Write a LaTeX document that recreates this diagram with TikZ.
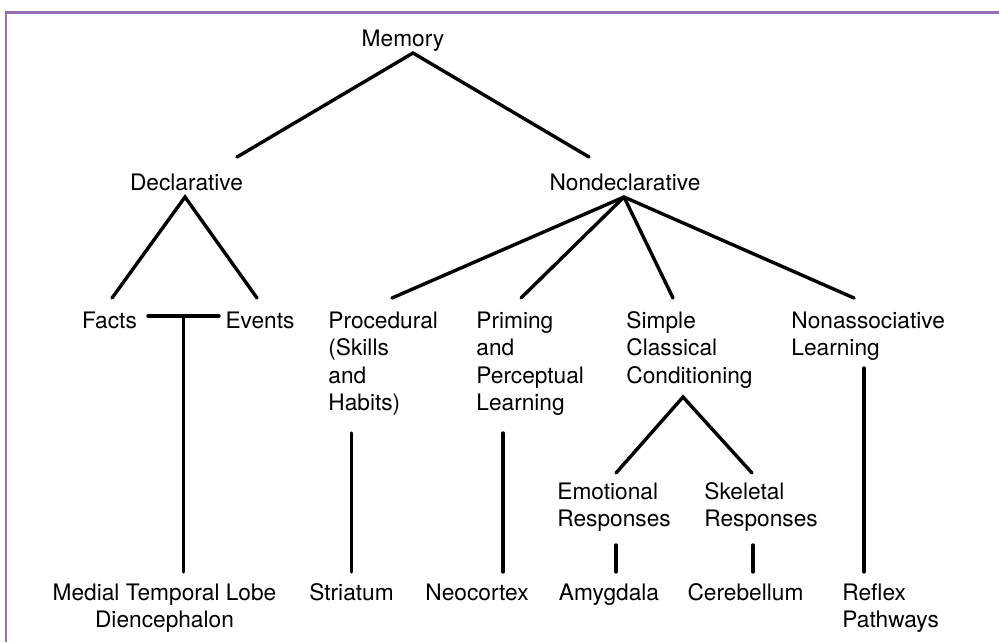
\documentclass[tikz,border=0pt]{standalone}
\usepackage{fontspec}
\setmainfont{TeX Gyre Heros}
\usetikzlibrary{positioning}
\definecolor{framepurple}{RGB}{152,108,182}

\begin{document}
\begin{tikzpicture}[
  x=0.5pt, y=-0.5pt,
  every node/.style={inner sep=0pt, font=\fontsize{11.35}{13.75}\selectfont},
  branch/.style={draw, line width=1.7pt, line cap=round},
  frame/.style={draw=framepurple, line width=1.4pt}
]
\useasboundingbox (0,0) rectangle (999,642);
\draw[frame] (6,642) -- (6,12.5) -- (999,12.5);

% top levels
\node[anchor=base] (mem) at (403,46.5) {Memory};
\node[anchor=base] (decl) at (186.5,190) {Declarative};
\node[anchor=base] (nondecl) at (625,190) {Nondeclarative};

% middle row (base = last line)
\node[anchor=base] (facts) at (109.5,328) {Facts};
\node[anchor=base] (events) at (260,328) {Events};
\node[anchor=base west, align=left] (proc) at (328,410.5) {Procedural\\(Skills\\and\\Habits)};
\node[anchor=base west, align=left] (prim) at (476,410.5) {Priming\\and\\Perceptual\\Learning};
\node[anchor=base west, align=left] (simple) at (626,383) {Simple\\Classical\\Conditioning};
\node[anchor=base west, align=left] (nonassoc) at (791,355.5) {Nonassociative\\Learning};
\node[anchor=base west, align=left] (emo) at (557,526.5) {Emotional\\Responses};
\node[anchor=base west, align=left] (skel) at (704,526.5) {Skeletal\\Responses};

% brain structures
\node[anchor=base, align=center] (mtl) at (164.5,627.5) {Medial Temporal Lobe\\Diencephalon};
\node[anchor=base] (striatum) at (351.5,600) {Striatum};
\node[anchor=base] (neocortex) at (477,600) {Neocortex};
\node[anchor=base] (amyg) at (609,600) {Amygdala};
\node[anchor=base] (cereb) at (745.5,600) {Cerebellum};
\node[anchor=base west, align=left] (reflex) at (842,627.5) {Reflex\\Pathways};

% links
\draw[branch] ([shift={(50.5,-33)}]decl.base) -- ([shift={(10,6.5)}]mem.base)
  -- ([shift={(-36,-33)}]nondecl.base);
\draw[branch] ([shift={(2.5,-30)}]facts.base) -- ([shift={(-1.5,7)}]decl.base)
  -- ([shift={(-3,-30)}]events.base);
\draw[branch] ([shift={(38.5,-12)}]facts.base) -- ([shift={(-41,-12)}]events.base);
\draw[branch] ([shift={(19,-55.5)}]mtl.base) -- ([shift={(-76.5,-12)}]events.base);

\draw[branch] ([shift={(-1,7)}]nondecl.base) -- ([shift={(64,-112.5)}]proc.base west);
\draw[branch] ([shift={(-1,7)}]nondecl.base) -- ([shift={(45,-112.5)}]prim.base west);
\draw[branch] ([shift={(-1,7)}]nondecl.base) -- ([shift={(47,-85)}]simple.base west);
\draw[branch] ([shift={(-1,7)}]nondecl.base) -- ([shift={(63,-57.5)}]nonassoc.base west);

\draw[branch] ([shift={(23.5,22.5)}]proc.base west) -- ([shift={(0,-28)}]striatum.base);
\draw[branch] ([shift={(27,22.5)}]prim.base west) -- ([shift={(26,-28)}]neocortex.base);
\draw[branch] ([shift={(59,-53.5)}]emo.base west) -- ([shift={(57,14)}]simple.base west)
  -- ([shift={(48,-53.5)}]skel.base west);
\draw[branch] ([shift={(59,18.5)}]emo.base west) -- ([shift={(7,-28)}]amyg.base);
\draw[branch] ([shift={(49,18.5)}]skel.base west) -- ([shift={(7.5,-28)}]cereb.base);
\draw[branch] ([shift={(73,12.5)}]nonassoc.base west) -- ([shift={(22,-55.5)}]reflex.base west);

\end{tikzpicture}
\end{document}
